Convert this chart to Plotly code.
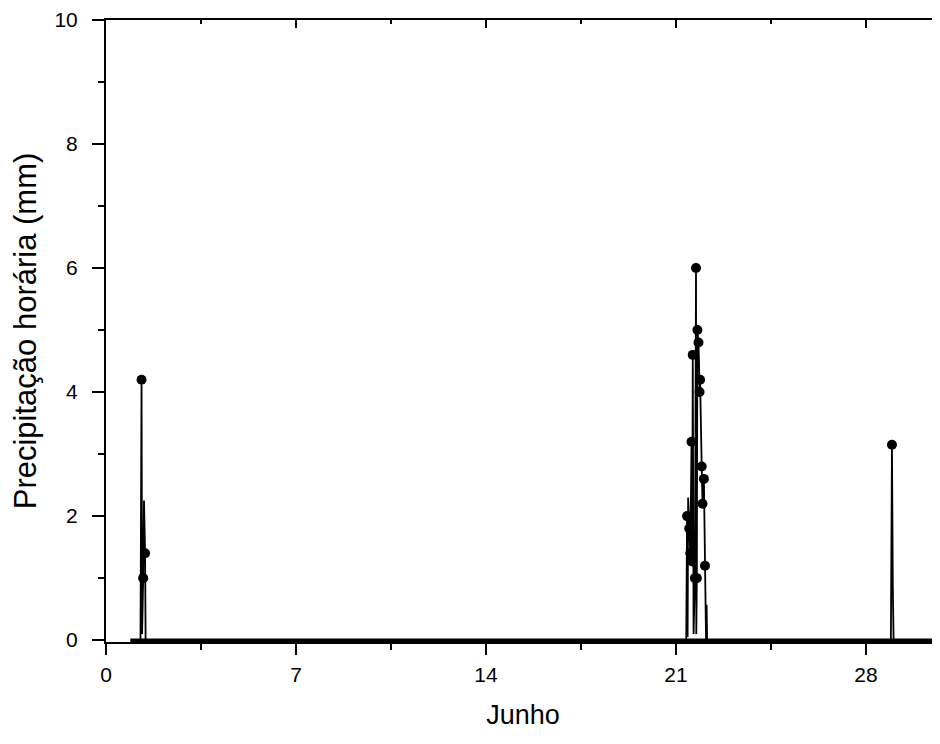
import plotly.graph_objects as go

# Hourly precipitation (mm) in June; time in days
evt1_t = [1.27, 1.31, 1.33, 1.37, 1.40, 1.44, 1.46]
evt1_v = [0, 4.2, 0.1, 1.0, 2.25, 1.4, 0]
evt1_dot = [0, 1, 0, 1, 0, 1, 0]

evt2_t = [21.38, 21.41, 21.43, 21.45, 21.49, 21.53, 21.575, 21.60, 21.62, 21.65,
          21.70, 21.74, 21.75, 21.77, 21.79, 21.83, 21.85, 21.87, 21.89, 21.92,
          21.95, 21.98, 22.00, 22.03, 22.07, 22.09, 22.11, 22.13, 22.15]
evt2_v = [0, 2.0, 0.05, 2.3, 1.8, 1.4, 3.2, 1.27, 4.6, 0.1,
          1.0, 6.0, 0.1, 1.0, 5.0, 4.8, 4.5, 4.0, 4.2, 2.9,
          2.8, 2.2, 2.3, 2.6, 1.2, 1.0, 0, 0.57, 0]
evt2_dot = [0, 1, 0, 0, 1, 1, 1, 1, 1, 0,
            1, 1, 0, 1, 1, 1, 0, 1, 1, 0,
            1, 1, 0, 1, 1, 0, 0, 0, 0]

evt3_t = [28.92, 28.96, 28.99, 29.02]
evt3_v = [0, 3.15, 0.9, 0]
evt3_dot = [0, 1, 0, 0]

series_start = 0.9
series_end = 30.73

x_ticks = [0, 7, 14, 21, 28]
y_ticks = [0, 2, 4, 6, 8, 10]

t = [series_start] + evt1_t + evt2_t + evt3_t + [series_end]
v = [0] + evt1_v + evt2_v + evt3_v + [0]
dots = [0] + evt1_dot + evt2_dot + evt3_dot + [0]

fig = go.Figure()
# thick zero baseline of the series
fig.add_trace(go.Scatter(
    x=[series_start, series_end], y=[0, 0], mode="lines",
    line=dict(color="black", width=3.5),
    showlegend=False, hoverinfo="skip"))
fig.add_trace(go.Scatter(
    x=t, y=v, mode="lines",
    line=dict(color="black", width=1.8),
    showlegend=False, hoverinfo="skip"))
fig.add_trace(go.Scatter(
    x=[a for a, d in zip(t, dots) if d],
    y=[b for b, d in zip(v, dots) if d],
    mode="markers",
    marker=dict(color="black", size=10),
    showlegend=False, cliponaxis=False))
# invisible trace for mirrored axes
fig.add_trace(go.Scatter(x=[series_start], y=[0], xaxis="x2", yaxis="y2",
                         mode="markers", marker=dict(opacity=0),
                         showlegend=False, hoverinfo="skip"))

font_fam = "Liberation Sans, Arial, sans-serif"
fig.update_layout(
    width=940, height=728,
    margin=dict(l=98, r=8, t=12, b=94),
    paper_bgcolor="white", plot_bgcolor="white",
    font=dict(family=font_fam, color="black"),
    xaxis=dict(
        automargin=False,
        range=[0, 30.73], tickvals=x_ticks, ticktext=[str(x) for x in x_ticks],
        showgrid=False, zeroline=False, showline=True, linecolor="black", linewidth=2,
        ticks="outside", ticklen=11, tickwidth=2, tickcolor="black",
        minor=dict(dtick=3.5, tick0=0, ticks="outside", ticklen=6, tickwidth=1.5,
                   tickcolor="black", showgrid=False),
        tickfont=dict(size=21), ticklabelstandoff=2,
        title=dict(text="Junho", font=dict(size=27), standoff=20),
    ),
    yaxis=dict(
        automargin=False,
        range=[-0.03, 10], tickvals=y_ticks, ticktext=[str(y) for y in y_ticks],
        showgrid=False, zeroline=False, showline=True, linecolor="black", linewidth=2,
        ticks="outside", ticklen=12, tickwidth=2, tickcolor="black",
        minor=dict(dtick=1, tick0=0, ticks="outside", ticklen=6, tickwidth=1.5,
                   tickcolor="black", showgrid=False),
        tickfont=dict(size=21), ticklabelstandoff=10,
        title=dict(text="Precipitação horária (mm)", font=dict(size=31), standoff=16),
    ),
    xaxis2=dict(
        overlaying="x", side="top", matches="x", range=[0, 30.73], automargin=False,
        tickvals=x_ticks, showticklabels=False, showgrid=False, zeroline=False,
        showline=True, linecolor="black", linewidth=2,
        ticks="inside", ticklen=8, tickwidth=2, tickcolor="black",
        minor=dict(dtick=3.5, tick0=0, ticks="inside", ticklen=4, tickwidth=1.5,
                   tickcolor="black", showgrid=False),
    ),
    yaxis2=dict(
        overlaying="y", side="right", matches="y", range=[-0.03, 10], automargin=False,
        tickvals=y_ticks, showticklabels=False, showgrid=False, zeroline=False,
        showline=True, linecolor="black", linewidth=2,
        ticks="inside", ticklen=8, tickwidth=2, tickcolor="black",
        minor=dict(dtick=1, tick0=0, ticks="inside", ticklen=3, tickwidth=1.5,
                   tickcolor="black", showgrid=False),
    ),
)

fig.write_html("out.html")
